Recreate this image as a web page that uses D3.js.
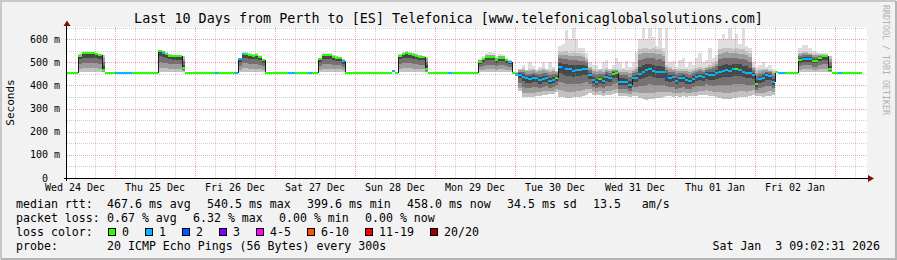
<!DOCTYPE html>
<html>
<head>
<meta charset="utf-8">
<script src="https://cdn.jsdelivr.net/npm/d3@7"></script>
<style>
body { margin: 0; background: #f2f2f2; }
svg { display: block; }
text { font-family: "DejaVu Sans Mono", monospace; white-space: pre; }
</style>
</head>
<body>
<svg id="chart"></svg>
<script>
// hourly bins, first bin = Wed 24 Dec 00:00 UTC, one line per day (00h .. 23h)
var medianMs = [
    null, null, null, null, null, null, null, null, null, 454, 454, 454, 454, 528, 538, 538, 538, 538, 536, 530, 466, 454, 454, 454,
    454, 454, 454, 454, 454, 454, 454, 454, 454, 454, 454, 454, 454, 548, 541, 536, 528, 526, 526, 526, 476, 454, 454, 454,
    454, 454, 454, 454, 454, 454, 454, 454, 454, 454, 454, 454, 454, 512, 536, 534, 530, 528, 530, 522, 508, 454, 454, 454,
    454, 454, 454, 454, 454, 454, 454, 454, 454, 454, 454, 454, 454, 513, 530, 530, 530, 522, 518, 518, 505, 454, 454, 454,
    454, 454, 454, 454, 454, 454, 454, 454, 454, 454, 454, 460, 454, 528, 536, 538, 534, 532, 528, 524, 522, 472, 454, 454,
    454, 454, 454, 454, 454, 454, 454, 454, 454, 454, 454, 454, 454, 502, 513, 524, 524, 524, 510, 520, 520, 509, 500, 454,
    449, 447, 437, 430, 427, 434, 430, 423, 428, 432, 419, 424, 431, 480, 473, 469, 469, 463, 466, 466, 469, 469, 445, 422,
    414, 426, 419, 437, 431, 450, 452, 416, 416, 414, 401, 430, 434, 449, 459, 466, 469, 462, 456, 456, 456, 437, 434, 437,
    420, 431, 434, 423, 420, 428, 437, 440, 437, 449, 445, 445, 452, 459, 463, 466, 462, 469, 469, 466, 459, 455, 452, 445,
    404, 426, 434, 445, 440, 416, 456, 454, 454, 454, 454, 454, 454, 509, 516, 516, 516, 506, 506, 519, 526, 526, 469, 454,
    454, 454, 454, 454, 454, 454, 454, 454
];

// lost pings out of 20
var lossCount = [
    null, null, null, null, null, null, null, null, null, 0, 0, 0, 0, 0, 0, 0, 0, 0, 0, 0, 0, 0, 0, 0,
    1, 1, 1, 1, 1, 0, 0, 0, 0, 0, 0, 0, 0, 0, 1, 0, 0, 0, 0, 0, 0, 0, 0, 0,
    0, 0, 0, 0, 0, 0, 1, 0, 0, 0, 0, 0, 1, 1, 1, 0, 0, 0, 0, 0, 0, 0, 0, 0,
    0, 0, 0, 0, 1, 1, 0, 0, 0, 0, 1, 0, 0, 0, 0, 0, 0, 0, 0, 0, 1, 0, 0, 0,
    0, 0, 0, 0, 0, 0, 0, 0, 0, 0, 0, 1, 0, 0, 0, 0, 0, 0, 0, 0, 0, 0, 0, 0,
    0, 0, 0, 0, 1, 0, 0, 0, 0, 0, 0, 0, 0, 0, 0, 0, 0, 0, 0, 0, 0, 0, 1, 0,
    1, 1, 1, 1, 1, 1, 1, 1, 1, 1, 1, 1, 0, 1, 2, 1, 1, 1, 1, 1, 1, 1, 1, 1,
    1, 0, 1, 1, 1, 0, 0, 1, 1, 1, 1, 1, 1, 1, 1, 1, 1, 1, 1, 1, 1, 2, 1, 1,
    1, 1, 1, 1, 1, 1, 1, 1, 1, 1, 1, 1, 1, 1, 1, 1, 1, 1, 0, 1, 1, 1, 1, 1,
    0, 1, 1, 1, 1, 1, 0, 1, 1, 0, 0, 0, 0, 0, 1, 1, 1, 0, 0, 0, 0, 0, 0, 0,
    0, 1, 0, 0, 0, 0, 0, 0
];

// smoke: lowest ping, highest ping of the bulk, highest single ping (ms)
var smokeLo = [
    null, null, null, null, null, null, null, null, null, null, null, null, null, 456, 456, 456, 456, 456, 456, 456, 456, null, null, null,
    null, null, null, null, null, null, null, null, null, null, null, null, null, 456, 456, 456, 456, 456, 456, 456, 456, null, null, null,
    null, null, null, null, null, null, null, null, null, null, null, null, null, 456, 456, 456, 456, 456, 456, 456, 456, null, null, null,
    null, null, null, null, null, null, null, null, null, null, null, null, null, 456, 456, 456, 456, 456, 456, 456, 456, null, null, null,
    null, null, null, null, null, null, null, null, null, null, null, null, null, 456, 456, 456, 456, 456, 456, 456, 456, 456, null, null,
    null, null, null, null, null, null, null, null, null, null, null, null, null, 456, 456, 456, 456, 456, 456, 456, 456, 456, 456, null,
    440, 375, 350, 348, 350, 348, 355, 355, 360, 360, 362, 362, 370, 350, 348, 345, 345, 348, 350, 350, 355, 360, 365, 360,
    360, 360, 355, 358, 360, 362, 365, 355, 355, 352, 350, 355, 355, 345, 340, 338, 340, 342, 345, 345, 350, 355, 355, 350,
    352, 350, 352, 350, 352, 355, 355, 358, 358, 360, 355, 352, 350, 345, 342, 340, 342, 345, 345, 348, 350, 350, 355, 360,
    355, 352, 350, 352, 355, 360, null, null, null, null, null, null, null, 456, 456, 456, 456, 456, 456, 456, 456, 456, 456, null,
    null, null, null, null, null, null, null, null
];

var smokeHi = [
    null, null, null, null, null, null, null, null, null, null, null, null, null, 534, 544, 544, 544, 544, 542, 536, 530, null, null, null,
    null, null, null, null, null, null, null, null, null, null, null, null, null, 552, 548, 542, 534, 532, 532, 532, 526, null, null, null,
    null, null, null, null, null, null, null, null, null, null, null, null, null, 518, 542, 540, 536, 534, 536, 528, 514, null, null, null,
    null, null, null, null, null, null, null, null, null, null, null, null, null, 520, 536, 536, 536, 530, 526, 524, 512, null, null, null,
    null, null, null, null, null, null, null, null, null, null, null, null, null, 534, 542, 546, 542, 538, 534, 530, 528, 522, null, null,
    null, null, null, null, null, null, null, null, null, null, null, null, null, 510, 520, 532, 532, 532, 520, 528, 528, 516, 509, null,
    456, 470, 475, 468, 470, 472, 465, 470, 475, 470, 468, 470, 462, 545, 545, 548, 540, 545, 542, 540, 535, 520, 480, 470,
    468, 470, 470, 475, 470, 472, 470, 468, 470, 468, 465, 470, 480, 555, 560, 560, 555, 560, 555, 558, 545, 490, 478, 472,
    470, 472, 470, 470, 468, 472, 475, 478, 475, 480, 490, 495, 505, 555, 560, 562, 560, 558, 560, 555, 555, 550, 540, 480,
    468, 470, 472, 470, 468, 462, null, null, null, null, null, null, null, 540, 545, 545, 540, 535, 535, 535, 535, 532, 526, null,
    null, null, null, null, null, null, null, null
];

var smokeTop = [
    null, null, null, null, null, null, null, null, null, null, null, null, null, 534, 546, 546, 546, 544, 542, 536, 530, null, null, null,
    null, null, null, null, null, null, null, null, null, null, null, null, null, 552, 550, 546, 536, 532, 532, 532, 526, null, null, null,
    null, null, null, null, null, null, null, null, null, null, null, null, null, 520, 544, 544, 538, 536, 538, 530, 514, null, null, null,
    null, null, null, null, null, null, null, null, null, null, null, null, null, 520, 540, 542, 540, 530, 526, 524, 512, null, null, null,
    null, null, null, null, null, null, null, null, null, null, null, null, null, 534, 544, 548, 544, 540, 534, 530, 528, 522, null, null,
    null, null, null, null, null, null, null, null, null, null, null, null, null, 512, 528, 540, 545, 540, 528, 536, 532, 520, 509, null,
    456, 470, 490, 468, 500, 485, 465, 480, 502, 470, 500, 480, 462, 570, 580, 640, 600, 650, 600, 560, 560, 540, 500, 490,
    490, 470, 500, 510, 470, 490, 520, 500, 475, 505, 480, 500, 545, 600, 650, 600, 650, 610, 570, 650, 560, 650, 500, 505,
    480, 510, 520, 480, 500, 490, 520, 540, 500, 510, 560, 520, 530, 600, 620, 600, 650, 600, 620, 580, 650, 570, 560, 500,
    480, 490, 500, 480, 490, 470, null, null, null, null, null, null, null, 560, 574, 574, 560, 550, 545, 540, 540, 540, 526, null,
    null, null, null, null, null, null, null, null
];

var lossLabels = ["0", "1", "2", "3", "4-5", "6-10", "11-19", "20/20"];
var lossColors = ["#26ff00", "#00b8ff", "#0059ff", "#7e00ff", "#ff00ff", "#ff5500", "#ff0000", "#a00000"];
var yTicks = [0, 100, 200, 300, 400, 500, 600];

var title = "Last 10 Days from Perth to [ES] Telefonica [www.telefonicaglobalsolutions.com]";
var statsRtt = [["median rtt:", 16], ["467.6 ms avg", 107], ["540.5 ms max", 207], ["399.6 ms min", 307],
    ["458.0 ms now", 407], ["34.5 ms sd", 507], ["13.5   am/s", 593]];
var statsLoss = [["packet loss:", 16], ["0.67 % avg", 107], ["6.32 % max", 193], ["0.00 % min", 279], ["0.00 % now", 365]];
var probeText = "20 ICMP Echo Pings (56 Bytes) every 300s";
var stampText = "Sat Jan  3 09:02:31 2026";

var width = 897, height = 260;
var plotLeft = 67, plotRight = 867, plotTop = 27.5, plotBottom = 178;
var HOUR = 3600 * 1000;
var start = Date.UTC(2025, 11, 24, 0, 0);

var svg = d3.select("#chart")
    .attr("width", width)
    .attr("height", height);

// background + frame
svg.append("rect").attr("width", width).attr("height", height).attr("fill", "#f2f2f2");
svg.append("path").attr("d", "M1,259V1H896").attr("fill", "none").attr("stroke", "#c8c8c8").attr("stroke-width", 2);
svg.append("path").attr("d", "M1,259H896V1").attr("fill", "none").attr("stroke", "#b4b4b4").attr("stroke-width", 2);

var x = d3.scaleUtc()
    .domain([new Date(Date.UTC(2025, 11, 24, 9, 36)), new Date(Date.UTC(2026, 0, 3, 9, 36))])
    .range([plotLeft, plotRight]);
var y = d3.scaleLinear()
    .domain([0, 650])
    .range([plotBottom, plotTop]);

svg.append("rect")
    .attr("x", plotLeft).attr("y", 27)
    .attr("width", plotRight - plotLeft).attr("height", plotBottom - 27)
    .attr("fill", "#ffffff");

var data = medianMs.map(function (m, i) {
    return {
        t0: new Date(start + i * HOUR),
        t1: new Date(start + (i + 1) * HOUR),
        m: m, loss: lossCount[i],
        lo: smokeLo[i], hi: smokeHi[i], top: smokeTop[i]
    };
}).filter(function (d) { return d.m != null; });

function bx0(d) { return Math.max(plotLeft, Math.round(x(d.t0))); }
function bw(d) { return Math.min(plotRight, Math.round(x(d.t1))) - bx0(d); }

function lossColor(n) {
    if (n <= 3) return lossColors[n];
    if (n <= 5) return lossColors[4];
    if (n <= 10) return lossColors[5];
    if (n <= 19) return lossColors[6];
    return lossColors[7];
}

// smoke, lighter the further from the median
var smoke = svg.append("g").attr("shape-rendering", "crispEdges");
var smokeData = data.filter(function (d) { return d.lo != null; });
function band(fLo, fHi, fill) {
    return {
        fill: fill,
        a: function (d) { return d.m - fLo * (d.m - d.lo); },
        b: function (d) { return d.m + fHi * (d.hi - d.m); }
    };
}
var layers = [
    { fill: "#dedede", a: function (d) { return d.hi; }, b: function (d) { return d.top; } },
    band(1, 1, "#c2c2c2"),
    band(0.78, 0.8, "#9c9c9c"),
    band(0.5, 0.56, "#727272"),
    band(0.22, 0.28, "#474747")
];
layers.forEach(function (l) {
    smoke.selectAll(null)
        .data(smokeData)
        .enter().append("rect")
        .attr("x", bx0)
        .attr("width", bw)
        .attr("y", function (d) { return Math.round(y(l.b(d))); })
        .attr("height", function (d) { return Math.max(0, Math.round(y(l.a(d))) - Math.round(y(l.b(d)))); })
        .attr("fill", l.fill);
});

// grid (dotted, drawn over the smoke like rrdtool)
var grid = svg.append("g").attr("shape-rendering", "crispEdges").attr("stroke-dasharray", "1,1");
var minorX = d3.utcHour.every(6).range(x.domain()[0], x.domain()[1]).filter(function (d) { return d.getUTCHours() != 0; });
var majorX = d3.utcDay.range(x.domain()[0], x.domain()[1]);
var minorY = d3.range(50, 651, 100);
var majorY = d3.range(100, 601, 100);

grid.selectAll(null).data(minorX).enter().append("line")
    .attr("x1", function (d) { return Math.round(x(d)) + 0.5; })
    .attr("x2", function (d) { return Math.round(x(d)) + 0.5; })
    .attr("y1", 27).attr("y2", plotBottom)
    .attr("stroke", "rgba(128,128,128,0.38)");
grid.selectAll(null).data(minorY).enter().append("line")
    .attr("x1", plotLeft).attr("x2", plotRight)
    .attr("y1", function (d) { return Math.round(y(d)) + 0.5; })
    .attr("y2", function (d) { return Math.round(y(d)) + 0.5; })
    .attr("stroke", "rgba(128,128,128,0.38)");
grid.selectAll(null).data(majorX).enter().append("line")
    .attr("x1", function (d) { return Math.round(x(d)) + 0.5; })
    .attr("x2", function (d) { return Math.round(x(d)) + 0.5; })
    .attr("y1", 27).attr("y2", plotBottom)
    .attr("stroke", "rgba(205,60,60,0.45)");
grid.selectAll(null).data(majorY).enter().append("line")
    .attr("x1", plotLeft).attr("x2", plotRight)
    .attr("y1", function (d) { return Math.round(y(d)) + 0.5; })
    .attr("y2", function (d) { return Math.round(y(d)) + 0.5; })
    .attr("stroke", "rgba(205,60,60,0.45)");

// step edges where the median jumps
var edges = svg.append("g").attr("shape-rendering", "crispEdges");
data.forEach(function (d, i) {
    if (i == 0) return;
    var p = data[i - 1];
    if (Math.abs(d.m - p.m) > 25) {
        var xe = Math.round(x(d.t0)) + 0.5;
        edges.append("line")
            .attr("x1", xe).attr("x2", xe)
            .attr("y1", Math.round(y(Math.min(d.m, p.m))))
            .attr("y2", Math.round(y(Math.max(d.m, p.m))))
            .attr("stroke", "#1e1e1e");
    }
});

// median coloured by loss
svg.append("g").attr("shape-rendering", "crispEdges")
    .selectAll("rect")
    .data(data)
    .enter().append("rect")
    .attr("x", bx0)
    .attr("width", bw)
    .attr("y", function (d) { return Math.round(y(d.m)) - 1; })
    .attr("height", 2)
    .attr("fill", function (d) { return lossColor(d.loss); });

// axes
var axes = svg.append("g").attr("shape-rendering", "crispEdges");
axes.append("line").attr("x1", 64).attr("x2", 869).attr("y1", plotBottom + 0.5).attr("y2", plotBottom + 0.5).attr("stroke", "#000");
axes.append("line").attr("x1", plotLeft - 0.5).attr("x2", plotLeft - 0.5).attr("y1", plotBottom + 3).attr("y2", 24).attr("stroke", "#000");
svg.append("path").attr("d", "M63.5,26L70.5,26L67,20.5Z").attr("fill", "#7f0f0f");
svg.append("path").attr("d", "M868,175L868,182L874,178.5Z").attr("fill", "#7f0f0f");

// tick labels
var dayLabels = d3.utcDay.range(new Date(Date.UTC(2025, 11, 24)), x.domain()[1])
    .map(function (d) { return d3.utcHour.offset(d, 12); })
    .filter(function (d) { return d >= x.domain()[0] && d <= x.domain()[1]; });
svg.selectAll(null).data(dayLabels).enter().append("text")
    .attr("x", function (d) { return x(d); })
    .attr("y", 190.5)
    .attr("text-anchor", "middle")
    .attr("font-size", "10px")
    .text(d3.utcFormat("%a %d %b"));

svg.selectAll(null).data(yTicks).enter().append("text")
    .attr("x", function (d) { return d == 0 ? 48 : 60; })
    .attr("y", function (d) { return y(d) + 3.5; })
    .attr("text-anchor", "end")
    .attr("font-size", "10px")
    .text(function (d) { return d == 0 ? "0" : d + " m"; });

svg.append("text")
    .attr("transform", "translate(14," + ((27 + plotBottom) / 2) + ") rotate(-90)")
    .attr("text-anchor", "middle")
    .attr("font-size", "11px")
    .text("Seconds");

svg.append("text")
    .attr("x", 448.5).attr("y", 23)
    .attr("text-anchor", "middle")
    .attr("font-size", "13.4px")
    .text(title);

svg.append("text")
    .attr("transform", "translate(883,5) rotate(90)")
    .attr("font-size", "8.3px")
    .attr("fill", "#b0b0b0")
    .text("RRDTOOL / TOBI OETIKER");

// legend
var legend = svg.append("g").attr("font-size", "11.6px");
statsRtt.forEach(function (s) {
    legend.append("text").attr("x", s[1]).attr("y", 207.5).text(s[0]);
});
statsLoss.forEach(function (s) {
    legend.append("text").attr("x", s[1]).attr("y", 222).text(s[0]);
});
legend.append("text").attr("x", 16).attr("y", 236).text("loss color:");
var lx = 108;
lossLabels.forEach(function (lab, i) {
    legend.append("rect")
        .attr("x", lx + 0.5).attr("y", 228.5)
        .attr("width", 7).attr("height", 7)
        .attr("fill", lossColors[i])
        .attr("stroke", "#000");
    legend.append("text").attr("x", lx + 14).attr("y", 236).text(lab);
    lx = lx + 14 + lab.length * 7 + 16;
});
legend.append("text").attr("x", 16).attr("y", 250.3).text("probe:");
legend.append("text").attr("x", 107).attr("y", 250.3).text(probeText);
legend.append("text").attr("x", 880).attr("y", 250.3).attr("text-anchor", "end").text(stampText);
</script>
</body>
</html>
